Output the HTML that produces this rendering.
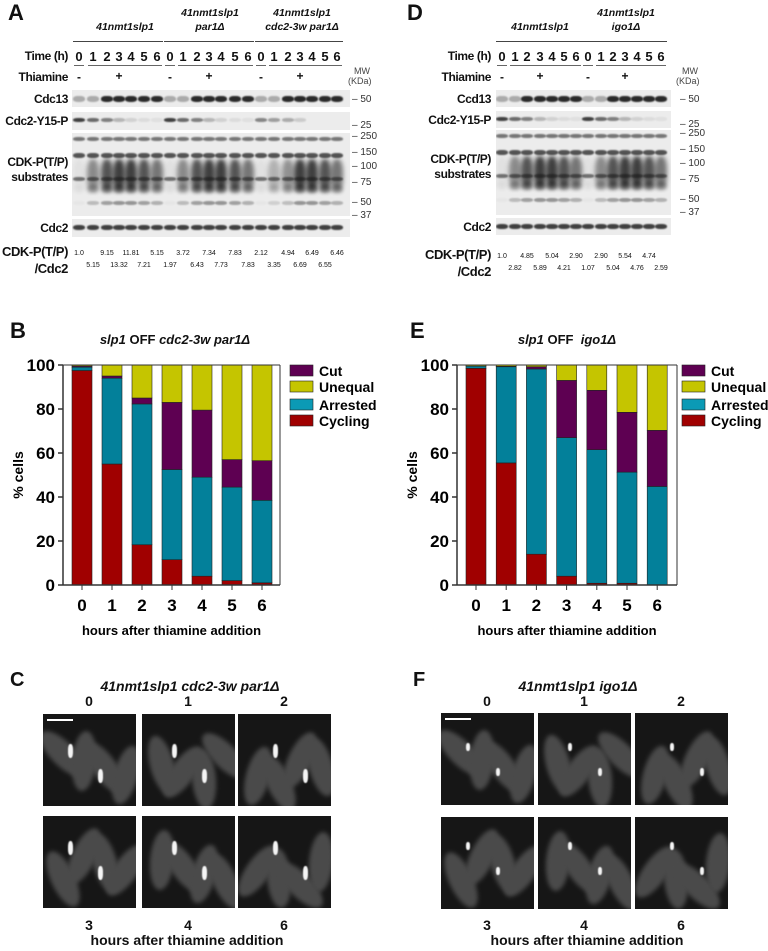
<!DOCTYPE html>
<html><head><meta charset="utf-8">
<style>
body{margin:0;background:#fff;}
#root{position:relative;width:768px;height:951px;overflow:hidden;font-family:"Liberation Sans",Arial,sans-serif;color:#111;}
.t{position:absolute;white-space:nowrap;font-weight:bold;}
.blot{position:absolute;background:#ececec;overflow:hidden;}
.band{position:absolute;border-radius:40%;}
.mic{position:absolute;background:#161616;overflow:hidden;}
.cell{position:absolute;border-radius:50%;background:#4a4a4a;filter:blur(2px);}
.hi{position:absolute;background:#f4f4f4;border-radius:40%;filter:blur(0.6px);}
</style></head>
<body>
<div id="root">
<svg id="charts" width="768" height="951" style="position:absolute;left:0;top:0"></svg>
</div>
<script>
// ---- Chart data (panel B) ----
const hours = ["0","1","2","3","4","5","6"];
const bCycling  = [97.5, 55, 18.3, 11.5, 4, 2, 1];
const bArrested = [1.5, 39, 64, 41, 45, 42.5, 37.5];
const bCut      = [0.5, 1, 2.7, 30.5, 30.5, 12.5, 18];
const bUnequal  = [0.5, 5, 15, 17, 20.5, 43, 43.5];
// ---- Chart data (panel E) ----
const eCycling  = [98.5, 55.5, 14, 4, 0.8, 0.8, 0];
const eArrested = [1, 43.7, 84.2, 63, 60.7, 50.5, 44.8];
const eCut      = [0, 0.2, 1, 26, 27, 27.2, 25.5];
const eUnequal  = [0.5, 0.6, 0.8, 7, 11.5, 21.5, 29.7];
const yTicks = [0, 20, 40, 60, 80, 100];
const seriesNames = ["Cut","Unequal","Arrested","Cycling"];

const NS="http://www.w3.org/2000/svg";
const svg=document.getElementById('charts');
function mk(tag,attrs,parent){const e=document.createElementNS(NS,tag);for(const k in attrs)e.setAttribute(k,attrs[k]);(parent||svg).appendChild(e);return e;}
const colors={Cycling:"#a00000",Arrested:"#03809a",Cut:"#5e0052",Unequal:"#c5c500"};
const legendColors={Cycling:"#a00000",Arrested:"#0b9ab5",Cut:"#5e0052",Unequal:"#c5c500"};

function drawChart(cfg){
  const g=mk('g',{});
  
  
  const y=v=>cfg.y0-(v/100)*(cfg.y0-cfg.y100);
  const x=i=>cfg.cx0+i*cfg.step;
  const stacks=[["Cycling",cfg.cyc],["Arrested",cfg.arr],["Cut",cfg.cut],["Unequal",cfg.une]];
  hours.forEach((h,i)=>{
    let base=0;
    stacks.forEach(([nm,arr])=>{
      const v=arr[i];
      if(v<=0)return;
      const r=mk('rect',{x:x(i)-cfg.bw/2,y:y(base+v),width:cfg.bw,height:y(base)-y(base+v),fill:colors[nm],stroke:"#222","stroke-width":0.6},g);
      
      
      base+=v;
    });
    const t=mk('text',{x:x(i),y:cfg.y0+26,"text-anchor":"middle","font-size":17,"font-weight":"bold","font-family":"Liberation Sans, sans-serif"},g);
    t.textContent=h;
    
    
    mk('line',{x1:x(i),x2:x(i),y1:cfg.y0,y2:cfg.y0+5,stroke:"#333","stroke-width":1},g);
  });
  mk('line',{x1:cfg.ax,x2:cfg.ax,y1:cfg.y100,y2:cfg.y0,stroke:"#333","stroke-width":1.5},g);
  mk('line',{x1:cfg.ax,x2:cfg.axR,y1:cfg.y0,y2:cfg.y0,stroke:"#333","stroke-width":1.5},g);
  mk('line',{x1:cfg.axR,x2:cfg.axR,y1:cfg.y100,y2:cfg.y0,stroke:"#333","stroke-width":1},g);
  mk('line',{x1:cfg.ax,x2:cfg.axR,y1:cfg.y100,y2:cfg.y100,stroke:"#333","stroke-width":1},g);
  yTicks.forEach(v=>{
    mk('line',{x1:cfg.ax-5,x2:cfg.ax,y1:y(v),y2:y(v),stroke:"#333","stroke-width":1.5},g);
    const t=mk('text',{x:cfg.ax-8,y:y(v)+6,"text-anchor":"end","font-size":17,"font-weight":"bold","font-family":"Liberation Sans, sans-serif"},g);
    t.textContent=v;
    
    
  });
  const yt=mk('text',{x:0,y:0,transform:`translate(${cfg.ax-40},${(cfg.y0+cfg.y100)/2}) rotate(-90)`,"text-anchor":"middle","font-size":14,"font-weight":"bold","font-family":"Liberation Sans, sans-serif"},g);
  yt.textContent="% cells";
  
  
  const xt=mk('text',{x:(cfg.ax+cfg.axR)/2,y:cfg.y0+50,"text-anchor":"middle","font-size":13,"font-weight":"bold","font-family":"Liberation Sans, sans-serif"},g);
  xt.textContent="hours after thiamine addition";
  
  
  const ly=[371,387,405,421];
  seriesNames.forEach((nm,k)=>{
    mk('rect',{x:cfg.lx,y:ly[k]-6,width:23,height:11,fill:legendColors[nm],stroke:"#222","stroke-width":0.6},g);
    const t=mk('text',{x:cfg.lx+29,y:ly[k]+5,"font-size":14,"font-weight":"bold","font-family":"Liberation Sans, sans-serif"},g);
    t.textContent=nm;
    
    
  });
}
drawChart({name:'chart-b',cyc:bCycling,arr:bArrested,cut:bCut,une:bUnequal,ax:63,axR:280,y0:585,y100:365,cx0:82,step:30,bw:20,lx:290});
drawChart({name:'chart-e',cyc:eCycling,arr:eArrested,cut:eCut,une:eUnequal,ax:457,axR:677,y0:585,y100:365,cx0:476,step:30.2,bw:20,lx:682});

const root=document.getElementById('root');
function txt(s,x,y,size,extra,name,anchor){
  const d=document.createElement('div');d.className='t';d.textContent=s;
  d.style.left=x+'px';d.style.top=y+'px';d.style.fontSize=size+'px';
  if(anchor==='r'){d.style.left='auto';d.style.right=(768-x)+'px';}
  if(anchor==='c'){d.style.transform='translateX(-50%)';}
  if(extra)d.style.cssText+=extra;
  
  
  root.appendChild(d);return d;
}
txt("A",8,0,22,"","panel-letter-a");
txt("D",407,0,22,"","panel-letter-d");
txt("B",10,318,22,"","panel-letter-b");
txt("E",410,318,22,"","panel-letter-e");
txt("C",10,669,20,"","panel-letter-c");
txt("F",413,669,20,"","panel-letter-f");
txt("",175,332,13,"","chart-b-title","c").innerHTML="<i>slp1</i> OFF <i>cdc2-3w par1Δ</i>";
txt("",567,332,13,"","chart-e-title","c").innerHTML="<i>slp1</i> OFF &nbsp;<i>igo1Δ</i>";

const C="letter-spacing:-0.4px;";
function blotPanel(o){
  o.strains.forEach((s,k)=>{
    if(s.length===1) txt(s[0],o.sx[k],21,10.5,"font-style:italic",'strain-label','c');
    else {txt(s[0],o.sx[k],7,10.5,"font-style:italic",'strain-label','c');txt(s[1],o.sx[k],21,10.5,"font-style:italic",'strain-label','c');}
  });
  o.groups.forEach((gr,k)=>{
    const line=document.createElement('div');
    line.style.cssText=`position:absolute;left:${gr[0]-6}px;top:41px;width:${gr[gr.length-1]-gr[0]+12}px;height:1px;background:#444`;
    root.appendChild(line);
    gr.forEach((lx,i)=>{txt(String(i),lx,49,13,"",'time-label','c');});
    const l1=document.createElement('div');
    l1.style.cssText=`position:absolute;left:${gr[0]-5}px;top:65px;width:10px;height:1px;background:#666`;
    root.appendChild(l1);
    const l2=document.createElement('div');
    l2.style.cssText=`position:absolute;left:${gr[1]-5}px;top:65px;width:${gr[gr.length-1]-gr[1]+10}px;height:1px;background:#666`;
    root.appendChild(l2);
    txt("-",gr[0],70,12,"",'thiamine-minus','c');
    txt("+",gr[3],69,12,"",'thiamine-plus','c');
  });
  txt("Time (h)",o.lab,49,12,C,'time-row-label','r');
  txt("Thiamine",o.lab,70,12,C,'thiamine-row-label','r');
  txt("MW",o.mw+2,66,9,"font-weight:normal;color:#444",'mw-label');
  txt("(KDa)",o.mw-4,76,9,"font-weight:normal;color:#444",'kda-label');
  const rows=[["Cdc13",o.r[0]],["Cdc2-Y15-P",o.r[1]],["CDK",o.r[2]],["Cdc2",o.r[3]]];
  const lanes=o.groups.flat();
  rows.forEach(([nm,[y1,y2]],ri)=>{
    const b=document.createElement('div');b.className='blot';
    b.style.cssText=`left:${o.bx}px;top:${y1}px;width:${o.bw}px;height:${y2-y1}px`;
    
    root.appendChild(b);
    lanes.forEach((lx,li)=>{
      const gi=li%7, grp=Math.floor(li/7);
      const addBand=(yy,h,alpha,blur)=>{const d=document.createElement('div');d.className='band';
        d.style.cssText=`left:${lx-o.bx-6}px;top:${yy}px;width:12px;height:${h}px;background:rgba(20,20,20,${alpha});filter:blur(${blur||0.8}px)`;b.appendChild(d);};
      if(ri===0){addBand((y2-y1)/2-3,6,gi<2?0.3:0.9);}
      if(ri===1){let a=[0.8,0.6,0.5,0.25,0.12,0.08,0.06][gi]*(grp===2?0.6:1);if(gi>=4&&grp===2)a=0;addBand(6,4,a);}
      if(ri===2){addBand(4,4,0.55);addBand(20,5,0.7);
        const a=gi===0?0.05:[0,0.45,0.7,0.8,0.8,0.7,0.55][gi]*(grp===2&&gi<3?0.6:1);
        addBand(26,32,a,2.5);
        addBand(44,4,0.55);addBand(52,8,a*0.5,1.5);addBand(68,4,a*0.5);}
      if(ri===3){addBand((y2-y1)/2-3,5,0.8);}
    });
  });
  txt(o.cdc13,o.lab,o.r[0][0]+2,12,C,'row-label-cdc13','r');
  txt("Cdc2-Y15-P",o.lab,o.r[1][0]+2,12,C,'row-label-y15','r');
  txt("CDK-P(T/P)",o.lab,o.r[2][0]+22,12,C,'row-label-cdk','r');
  txt("substrates",o.lab,o.r[2][0]+37,12,C,'row-label-substrates','r');
  txt("Cdc2",o.lab,o.r[3][0]+2,12,C,'row-label-cdc2','r');
  const mws=[["50",o.r[0][0]+4],["25",o.r[1][0]+8],["250",o.r[2][0]-2],["150",o.r[2][0]+14],["100",o.r[2][0]+28],["75",o.r[2][0]+44],["50",o.r[2][0]+64],["37",o.r[2][0]+77]];
  mws.forEach(([m,yy])=>txt("– "+m,o.mw,yy,10,"font-weight:normal;color:#333",'mw-marker'));
  txt("CDK-P(T/P)",o.lab,o.qy-9,13,C,'quant-label','r');
  txt("/Cdc2",o.lab,o.qy+8,13,C,'quant-label-2','r');
  o.q1.forEach((v,i)=>{if(v)txt(v,lanes[i],o.qy-3,7,"font-weight:normal",'quant-value','c');});
  o.q2.forEach((v,i)=>{if(v)txt(v,lanes[i],o.qy+9,7,"font-weight:normal",'quant-value','c');});
}
const gA=[[79,93,107,119,131,144,157],[170,183,197,209,221,235,248],[261,274,288,300,312,325,337]];
blotPanel({strains:[["41nmt1slp1"],["41nmt1slp1","par1Δ"],["41nmt1slp1","cdc2-3w par1Δ"]],sx:[125,210,302],groups:gA,lab:68,bx:72,bw:278,mw:352,
  r:[[90,107],[112,130],[133,216],[219,237]],cdc13:"Cdc13",qy:253,
  q1:["1.0","","9.15","","11.81","","5.15","","3.72","","7.34","","7.83","","2.12","","4.94","","6.49","","6.46"],
  q2:["","5.15","","13.32","","7.21","","1.97","","6.43","","7.73","","7.83","","3.35","","6.69","","6.55",""]});
const gD=[[502,515,527,540,552,564,576],[588,601,613,625,637,649,661]];
blotPanel({strains:[["41nmt1slp1"],["41nmt1slp1","igo1Δ"]],sx:[540,626],groups:gD,lab:491,bx:496,bw:175,mw:680,
  r:[[90,107],[111,128],[130,215],[218,235]],cdc13:"Ccd13",qy:256,
  q1:["1.0","","4.85","","5.04","","2.90","","2.90","","5.54","","4.74",""],
  q2:["","2.82","","5.89","","4.21","","1.07","","5.04","","4.76","","2.59"]});

txt("",190,678,14,"",'title-c','c').innerHTML="<i>41nmt1slp1 cdc2-3w par1Δ</i>";
txt("",578,678,14,"",'title-f','c').innerHTML="<i>41nmt1slp1 igo1Δ</i>";
function micro(xs,ys,labTop,labBot,pfx,bright){
  xs.forEach((x,i)=>{txt(labTop[i],x+46,693,14,"",'time-label','c');txt(labBot[i],x+46,917,14,"",'time-label','c');});
  ys.forEach((y,r)=>xs.forEach((x,c)=>{
    const m=document.createElement('div');m.className='mic';
    m.style.cssText=`left:${x}px;top:${y}px;width:93px;height:92px`;
    
    root.appendChild(m);
    for(let k=0;k<4;k++){const cl=document.createElement('div');cl.className='cell';
      cl.style.cssText=`left:${8+k*21}px;top:${10+((k*37+r*23+c*11)%30)}px;width:24px;height:60px;transform:rotate(${(k*50+c*30+r*20)%90-45}deg)`;m.appendChild(cl);}
    for(let k=0;k<2;k++){const h=document.createElement('div');h.className='hi';
      h.style.cssText=`left:${25+k*30+c*5}px;top:${30+k*25-r*5}px;width:${bright?5:4}px;height:${bright?14:8}px`;m.appendChild(h);}
    if(r===0&&c===0){const s=document.createElement('div');s.style.cssText='position:absolute;left:4px;top:5px;width:26px;height:2px;background:#fff';m.appendChild(s);}
  }));
}
micro([43,142,238],[714,816],["0","1","2"],["3","4","6"],'c',true);
micro([441,538,635],[713,817],["0","1","2"],["3","4","6"],'f',false);
txt("hours after thiamine addition",187,932,14,"",'c-x-title','c');
txt("hours after thiamine addition",587,932,14,"",'f-x-title','c');
</script>
</body></html>
